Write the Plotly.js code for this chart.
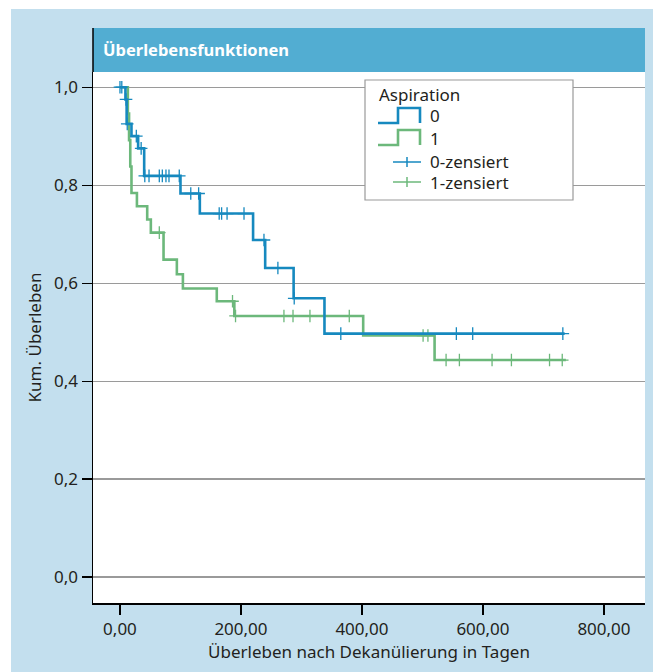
<!DOCTYPE html>
<html>
<head>
<meta charset="utf-8">
<script src="https://cdn.plot.ly/plotly-3.0.1.min.js"></script>
<style>html,body{margin:0;padding:0;background:#fff;}#chart{width:653px;height:672px;}</style>
</head>
<body>
<div id="chart"></div>
<script>
// ---- data ----
const legendTitle = "Aspiration";
const groupNames = ["0", "1"];
const censorNames = ["0-zensiert", "1-zensiert"];

// Group 0 (Aspiration = 0): Kaplan-Meier step points (days, cumulative survival)
const g0Times = [0, 9, 11, 19, 30, 40, 100, 132, 220, 240, 287, 338, 735];
const g0Surv  = [1.0, 0.975, 0.925, 0.9, 0.875, 0.819, 0.783, 0.742, 0.688, 0.631, 0.569, 0.497, 0.497];
// Group 0 censored observations
const g0CensTimes = [0, 3, 10, 12, 27, 35, 41, 48, 65, 70, 76, 81, 98, 117, 130, 164, 168, 177, 205, 238, 261, 288, 365, 556, 583, 732];
const g0CensSurv  = [1.0, 1.0, 0.975, 0.925, 0.9, 0.875, 0.819, 0.819, 0.819, 0.819, 0.819, 0.819, 0.819, 0.783, 0.783, 0.742, 0.742, 0.742, 0.742, 0.688, 0.631, 0.569, 0.497, 0.497, 0.497, 0.497];

// Group 1 (Aspiration = 1)
const g1Times = [0, 13, 15, 17, 19, 28, 45, 51, 72, 94, 104, 160, 189, 402, 520, 737];
const g1Surv  = [1.0, 0.946, 0.892, 0.838, 0.784, 0.757, 0.730, 0.703, 0.648, 0.618, 0.589, 0.563, 0.533, 0.493, 0.443, 0.443];
const g1CensTimes = [65, 186, 191, 271, 286, 314, 379, 501, 509, 539, 561, 615, 647, 710, 731];
const g1CensSurv  = [0.703, 0.563, 0.533, 0.533, 0.533, 0.533, 0.533, 0.493, 0.493, 0.443, 0.443, 0.443, 0.443, 0.443, 0.443];

const xTicks = [0, 200, 400, 600, 800];
const yTicks = [0, 0.2, 0.4, 0.6, 0.8, 1.0];

// ---- styling ----
const BLUE = "#1689bf";
const GREEN = "#6cb87b";
const FONT = "'Liberation Sans Narrow', 'Noto Sans', sans-serif";
const W = 653, H = 672;
const M = {l: 93, r: 8, t: 72, b: 69};
const PW = W - M.l - M.r, PH = H - M.t - M.b;
const px = x => (x - M.l) / PW;      // pixel x -> paper
const py = y => (H - M.b - y) / PH;  // pixel y -> paper

const traces = [
  {x: g0Times, y: g0Surv, type: "scatter", mode: "lines", line: {shape: "hv", color: BLUE, width: 2.6}, name: groupNames[0], showlegend: false, hoverinfo: "x+y"},
  {x: g1Times, y: g1Surv, type: "scatter", mode: "lines", line: {shape: "hv", color: GREEN, width: 2.6}, name: groupNames[1], showlegend: false, hoverinfo: "x+y"},
  {x: g0CensTimes, y: g0CensSurv, type: "scatter", mode: "markers", marker: {symbol: "cross-thin-open", size: 9, color: BLUE, line: {width: 1.3, color: BLUE}}, name: censorNames[0], showlegend: false},
  {x: g1CensTimes, y: g1CensSurv, type: "scatter", mode: "markers", marker: {symbol: "cross-thin-open", size: 9, color: GREEN, line: {width: 1.3, color: GREEN}}, name: censorNames[1], showlegend: false}
];
// draw blue on top of green as in reference
const ordered = [traces[1], traces[3], traces[0], traces[2]];

const shapes = [
  // white strips (top/left) outside the light-blue panel
  {type: "rect", xref: "paper", yref: "paper", xsizemode: "pixel", xanchor: 0, x0: -M.l - 2, x1: -M.l + 11, y0: -0.2, y1: 1.2, fillcolor: "#ffffff", line: {width: 0}, layer: "above"},
  {type: "rect", xref: "paper", yref: "paper", ysizemode: "pixel", yanchor: 1, y0: M.t - 9, y1: M.t + 2, x0: -0.2, x1: 1.1, fillcolor: "#ffffff", line: {width: 0}, layer: "above"},
  // title bar
  {type: "rect", xref: "paper", yref: "paper", ysizemode: "pixel", yanchor: 1, y0: 0, y1: 44, x0: 0, x1: 1, fillcolor: "#52add2", line: {width: 0}, layer: "above"},
  // axis line continuing through title bar
  {type: "line", xref: "paper", yref: "paper", ysizemode: "pixel", yanchor: 1, y0: 0, y1: 44, x0: 0, x1: 0, line: {color: "#000", width: 1.5}, layer: "above"},
  // legend box
  {type: "rect", xref: "paper", yref: "paper", x0: px(365), x1: px(573), y0: py(200), y1: py(80), fillcolor: "#ffffff", line: {color: "#9a9a9a", width: 1.2}, layer: "above"},
  // legend step icons
  {type: "path", xref: "paper", yref: "paper", path: `M ${px(378)} ${py(123)} L ${px(398)} ${py(123)} L ${px(398)} ${py(108)} L ${px(420)} ${py(108)} L ${px(420)} ${py(123)}`, line: {color: BLUE, width: 2.6}, layer: "above"},
  {type: "path", xref: "paper", yref: "paper", path: `M ${px(378)} ${py(145)} L ${px(398)} ${py(145)} L ${px(398)} ${py(130)} L ${px(420)} ${py(130)} L ${px(420)} ${py(145)}`, line: {color: GREEN, width: 2.6}, layer: "above"},
  // legend censor icons
  {type: "line", xref: "paper", yref: "paper", x0: px(393), x1: px(421), y0: py(162), y1: py(162), line: {color: BLUE, width: 1.5}, layer: "above"},
  {type: "line", xref: "paper", yref: "paper", x0: px(407), x1: px(407), y0: py(157), y1: py(167), line: {color: BLUE, width: 1.5}, layer: "above"},
  {type: "line", xref: "paper", yref: "paper", x0: px(393), x1: px(421), y0: py(182), y1: py(182), line: {color: GREEN, width: 1.5}, layer: "above"},
  {type: "line", xref: "paper", yref: "paper", x0: px(407), x1: px(407), y0: py(177), y1: py(187), line: {color: GREEN, width: 1.5}, layer: "above"}
];

const annFont = {family: FONT, size: 17, color: "#231f20"};
const annotations = [
  {text: legendTitle, xref: "paper", yref: "paper", x: px(377), y: py(94), xanchor: "left", yanchor: "middle", showarrow: false, font: annFont},
  {text: groupNames[0], xref: "paper", yref: "paper", x: px(428), y: py(116), xanchor: "left", yanchor: "middle", showarrow: false, font: annFont},
  {text: groupNames[1], xref: "paper", yref: "paper", x: px(428), y: py(138), xanchor: "left", yanchor: "middle", showarrow: false, font: annFont},
  {text: censorNames[0], xref: "paper", yref: "paper", x: px(428), y: py(161), xanchor: "left", yanchor: "middle", showarrow: false, font: annFont},
  {text: censorNames[1], xref: "paper", yref: "paper", x: px(428), y: py(182), xanchor: "left", yanchor: "middle", showarrow: false, font: annFont}
];

const layout = {
  width: W, height: H,
  margin: {l: M.l, r: M.r, t: M.t, b: M.b, pad: 0},
  paper_bgcolor: "#c3dfee",
  plot_bgcolor: "#ffffff",
  separators: ",.",
  font: {family: FONT, size: 16, color: "#231f20"},
  title: {text: "<b>Überlebensfunktionen</b>", xref: "container", x: 103 / W, xanchor: "left", yref: "container", y: 1 - 50 / H, yanchor: "middle", font: {family: FONT, size: 16.5, color: "#ffffff"}},
  showlegend: false,
  xaxis: {
    range: [-44.6, 867.8], tickvals: xTicks, tickformat: ".2f",
    ticks: "outside", ticklen: 10, tickwidth: 1.2, tickcolor: "#000",
    showline: true, linecolor: "#000", linewidth: 1.5,
    showgrid: false, zeroline: false,
    tickfont: {family: FONT, size: 17, color: "#231f20"},
    title: {text: "Überleben nach Dekanülierung in Tagen", font: {family: FONT, size: 17, color: "#231f20"}, standoff: 4}
  },
  yaxis: {
    range: [-0.053, 1.031], tickvals: yTicks, tickformat: ".1f",
    ticks: "outside", ticklen: 10, tickwidth: 1.2, tickcolor: "#000",
    showline: true, linecolor: "#000", linewidth: 1.5,
    showgrid: true, gridcolor: "#9a9a9a", gridwidth: 1.2, zeroline: false,
    tickfont: {family: FONT, size: 17, color: "#231f20"},
    title: {text: "Kum. Überleben", font: {family: FONT, size: 17, color: "#231f20"}, standoff: 8}
  },
  shapes: shapes,
  annotations: annotations
};

Plotly.newPlot("chart", ordered, layout, {displayModeBar: false, staticPlot: true});
</script>
</body>
</html>
